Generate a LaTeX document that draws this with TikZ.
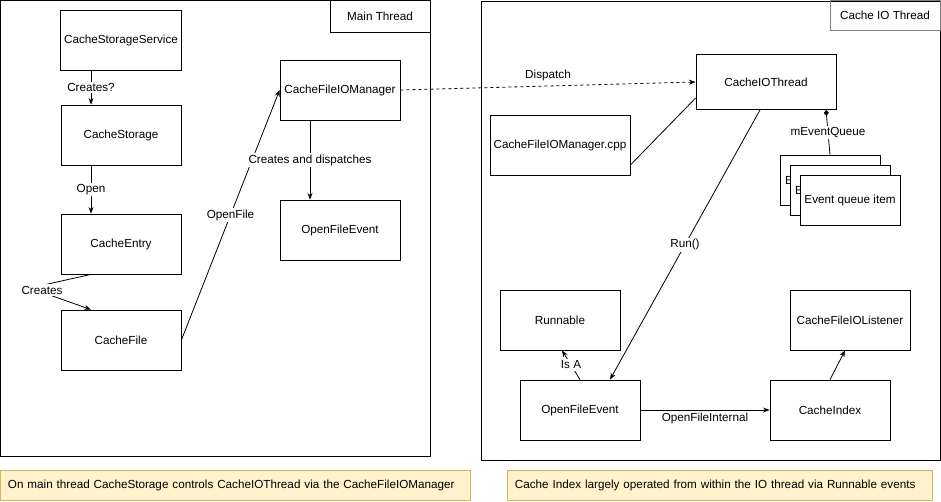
\documentclass[tikz,border=0pt]{standalone}
\usepackage{fontspec}
\setmainfont{Liberation Sans}
\usetikzlibrary{arrows.meta,positioning}

\definecolor{notefill}{HTML}{FFF2CC}
\definecolor{notedraw}{HTML}{D6B656}

\begin{document}
\begin{tikzpicture}[x=1pt,y=-1pt,line width=0.8pt,>=Stealth,font=\fontsize{11.7}{14}\selectfont,
  box/.style={draw,minimum width=120pt,minimum height=60pt,fill=white},
  lbl/.style={fill=white,inner sep=1.5pt},
  note/.style={draw=notedraw,fill=notefill,minimum height=30pt,anchor=north west}]
  \useasboundingbox (0,0) rectangle (941,501);
  % thread containers
  \draw (0,0) rectangle (430,456);
  \node[draw,minimum width=100pt,minimum height=32pt] (mainlbl) at (380,16) {Main Thread};
  \draw (481,1) rectangle (940,460);
  \node[draw=gray,minimum width=110pt,minimum height=30pt] (iolbl) at (885,15) {Cache IO Thread};

  % main thread
  \node[box] (svc)     at (121,40)  {CacheStorageService};
  \node[box] (storage) at (121,135) {CacheStorage};
  \node[box] (entry)   at (121,244) {CacheEntry};
  \node[box] (file)    at (121,340) {CacheFile};
  \node[box] (mgr)     at (340,90)  {CacheFileIOManager};
  \node[box] (openev)  at (340,230) {OpenFileEvent};
  \coordinate (bend) at (30,288);

  % io thread
  \node[box,minimum width=140pt,minimum height=55pt] (iothread) at (766,82) {CacheIOThread};
  \node[box,minimum width=140pt] (cpp) at (560,145) {CacheFileIOManager.cpp};
  \node[box,minimum width=100pt,minimum height=50pt,align=left,text width=90pt] (q1) at (830,180) {E};
  \node[box,minimum width=100pt,minimum height=50pt,align=left,text width=90pt] (q2) at (840,190) {E};
  \node[box,minimum width=100pt,minimum height=50pt] (q3) at (850,200) {Event queue item};
  \node[box] (runnable) at (560,320) {Runnable};
  \node[box] (listener) at (850,320) {CacheFileIOListener};
  \node[box] (openev2)  at (580,410) {OpenFileEvent};
  \node[box] (index)    at (830,410) {CacheIndex};

  % connectors
  \draw[->] ([xshift=-30pt]svc.south) -- node[lbl] {Creates?} ([xshift=-30pt]storage.north);
  \draw[->] ([xshift=-30pt]storage.south) -- node[lbl] {Open} ([xshift=-30pt]entry.north);
  \draw ([xshift=-30pt]entry.south) -- (bend);
  \draw[->] (bend) -- ([xshift=-30pt]file.north);
  \node[lbl] (createslbl) at (42,290) {Creates};
  \draw[->] (file.east) -- node[lbl] {OpenFile} (mgr.west);
  \draw[->] ([xshift=-30pt]mgr.south) -- node[lbl] {Creates and dispatches} ([xshift=-30pt]openev.north);
  \draw[->,dashed] (mgr.east) -- node[lbl,above=3pt] {Dispatch} (iothread.west);
  \draw ([yshift=-20pt]cpp.east) -- ([yshift=-16pt]iothread.west);
  \draw[-{Diamond[length=6pt,width=5pt]}] (q1.north) -- node[lbl] {mEventQueue} ([xshift=60pt]iothread.south);
  \draw[->] ([xshift=-6pt]iothread.south) -- node[lbl] {Run()} ([xshift=30pt]openev2.north);
  \draw[->] (openev2.north) -- node[lbl] {Is A} ([xshift=2pt]runnable.south);
  \draw[->] (index.north) -- ([xshift=-5pt]listener.south);
  \draw[->] (openev2.east) -- node[lbl,below=1pt] {OpenFileInternal} (index.west);

  % notes
  \node[note,minimum width=470pt,text width=455pt,align=left] (note1) at (0,470) {On main thread CacheStorage controls CacheIOThread via the CacheFileIOManager};
  \node[note,minimum width=425pt,text width=410pt,align=left] (note2) at (507,470) {Cache Index largely operated from within the IO thread via Runnable events};
\end{tikzpicture}
\end{document}
